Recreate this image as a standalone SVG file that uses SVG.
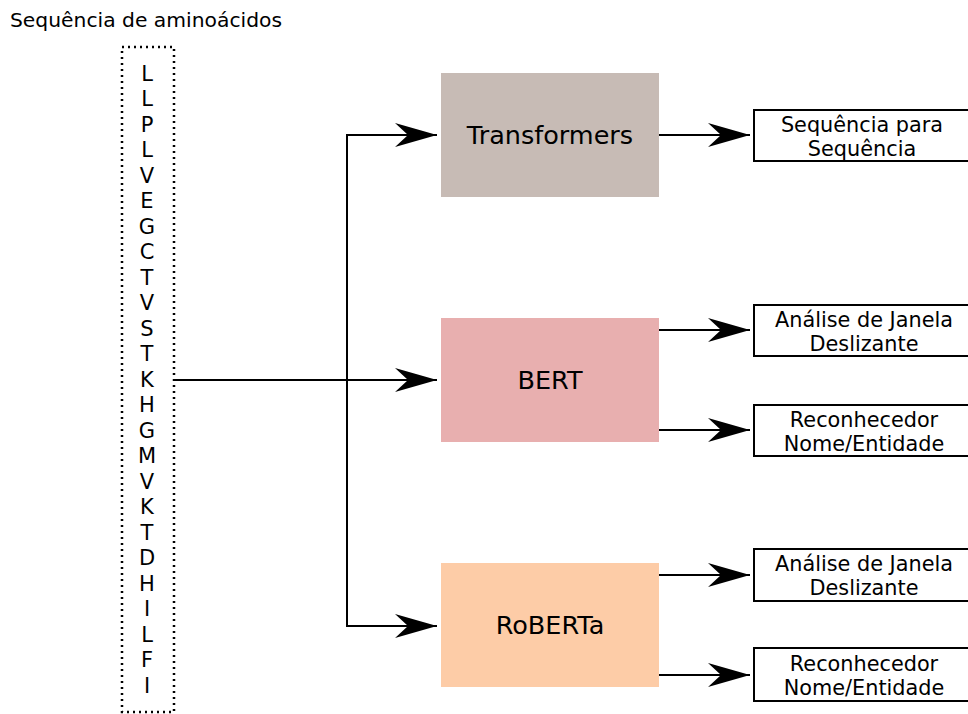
<svg xmlns="http://www.w3.org/2000/svg" width="968" height="714" viewBox="0 0 968 714">
  <style>
    text { font-family: "DejaVu Sans", Verdana, sans-serif; fill: #000; }
    .title { font-size: 20.3px; }
    .aa { font-size: 21px; text-anchor: middle; }
    .model { font-size: 25.5px; text-anchor: middle; }
    .out { font-size: 20.8px; text-anchor: middle; }
    .line { fill: none; stroke: #000; stroke-width: 2; }
    .outbox { fill: #fff; stroke: #000; stroke-width: 2; }
  </style>
  <defs>
    <marker id="arrow" markerUnits="userSpaceOnUse" markerWidth="44" markerHeight="28" refX="42" refY="14" orient="auto">
      <path d="M42,14 L0,2 L13,14 L0,26 Z" fill="#000"/>
    </marker>
  </defs>

  <text class="title" x="10" y="27">Sequência de aminoácidos</text>

  <g id="sequence">
    <rect x="122" y="47" width="52" height="665" fill="none" stroke="#000" stroke-width="2.5" stroke-dasharray="2 4"/>
    <text class="aa" x="147" y="80.5">L</text>
    <text class="aa" x="147" y="106">L</text>
    <text class="aa" x="147" y="131.5">P</text>
    <text class="aa" x="147" y="157">L</text>
    <text class="aa" x="147" y="182.5">V</text>
    <text class="aa" x="147" y="208">E</text>
    <text class="aa" x="147" y="233.5">G</text>
    <text class="aa" x="147" y="259">C</text>
    <text class="aa" x="147" y="284.5">T</text>
    <text class="aa" x="147" y="310">V</text>
    <text class="aa" x="147" y="335.5">S</text>
    <text class="aa" x="147" y="361">T</text>
    <text class="aa" x="147" y="386.5">K</text>
    <text class="aa" x="147" y="412">H</text>
    <text class="aa" x="147" y="437.5">G</text>
    <text class="aa" x="147" y="463">M</text>
    <text class="aa" x="147" y="488.5">V</text>
    <text class="aa" x="147" y="514">K</text>
    <text class="aa" x="147" y="539.5">T</text>
    <text class="aa" x="147" y="565">D</text>
    <text class="aa" x="147" y="590.5">H</text>
    <text class="aa" x="147" y="616">I</text>
    <text class="aa" x="147" y="641.5">L</text>
    <text class="aa" x="147" y="667">F</text>
    <text class="aa" x="147" y="692.5">I</text>
  </g>

  <g id="transformers">
    <rect x="441" y="73" width="218" height="124" fill="#c7bbb5"/>
    <text class="model" x="550" y="144">Transformers</text>
  </g>
  <g id="bert">
    <rect x="441" y="318" width="218" height="124" fill="#e8afaf"/>
    <text class="model" x="550" y="389">BERT</text>
  </g>
  <g id="roberta">
    <rect x="441" y="563" width="218" height="124" fill="#fdcca7"/>
    <text class="model" x="550" y="634">RoBERTa</text>
  </g>

  <g id="seq2seq">
    <rect class="outbox" x="754" y="110" width="220" height="51"/>
    <text class="out" x="862" y="132">Sequência para</text>
    <text class="out" x="862" y="156">Sequência</text>
  </g>
  <g id="bert-window">
    <rect class="outbox" x="754" y="305" width="220" height="51"/>
    <text class="out" x="864" y="327">Análise de Janela</text>
    <text class="out" x="864" y="351">Deslizante</text>
  </g>
  <g id="bert-ner">
    <rect class="outbox" x="754" y="405" width="220" height="51"/>
    <text class="out" x="864" y="427">Reconhecedor</text>
    <text class="out" x="864" y="451">Nome/Entidade</text>
  </g>
  <g id="roberta-window">
    <rect class="outbox" x="754" y="549" width="220" height="52"/>
    <text class="out" x="864" y="571">Análise de Janela</text>
    <text class="out" x="864" y="595">Deslizante</text>
  </g>
  <g id="roberta-ner">
    <rect class="outbox" x="754" y="648" width="220" height="53"/>
    <text class="out" x="864" y="671">Reconhecedor</text>
    <text class="out" x="864" y="695">Nome/Entidade</text>
  </g>

  <g id="connectors">
    <path class="line" d="M175,380 L437,380" marker-end="url(#arrow)"/>
    <path class="line" d="M347,380 L347,135 L437,135" marker-end="url(#arrow)"/>
    <path class="line" d="M347,380 L347,626 L437,626" marker-end="url(#arrow)"/>
    <path class="line" d="M659,135 L750,135" marker-end="url(#arrow)"/>
    <path class="line" d="M659,330 L750,330" marker-end="url(#arrow)"/>
    <path class="line" d="M659,430 L750,430" marker-end="url(#arrow)"/>
    <path class="line" d="M659,575 L750,575" marker-end="url(#arrow)"/>
    <path class="line" d="M659,675 L750,675" marker-end="url(#arrow)"/>
  </g>
</svg>
